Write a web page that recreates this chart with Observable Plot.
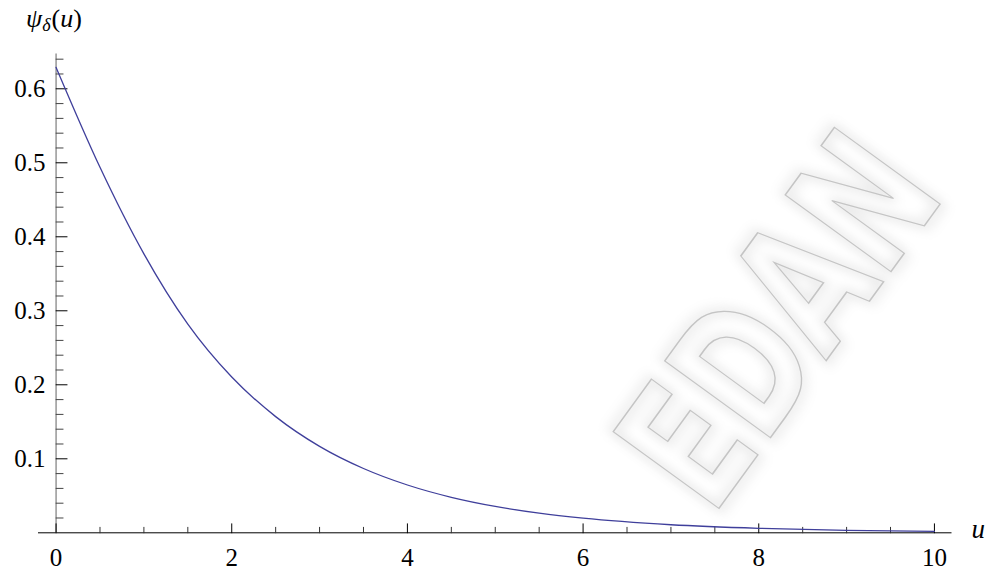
<!DOCTYPE html>
<html>
<head>
<meta charset="utf-8">
<script src="https://cdn.jsdelivr.net/npm/d3@7"></script>
<script src="https://cdn.jsdelivr.net/npm/@observablehq/plot@0.6"></script>
<style>
  html, body { margin: 0; padding: 0; background: #fff; }
  #chart svg { display: block; }
</style>
</head>
<body>
<div id="chart"></div>
<script>
// Ruin-probability curve ψδ(u) against initial surplus u
const uValues   = [0, 0.5, 1, 1.5, 2, 2.5, 3, 3.5, 4, 4.5, 5, 5.5, 6, 7, 8, 9, 10];
const psiValues = [0.629, 0.494, 0.377, 0.282, 0.2105, 0.157, 0.1168, 0.0869, 0.0646, 0.048,
                   0.0357, 0.0265, 0.0197, 0.0109, 0.0061, 0.0034, 0.0019];

// Axis ticks
const xMajorTicks = [0, 2, 4, 6, 8, 10];
const xMinorTicks = [0.5, 1, 1.5, 2.5, 3, 3.5, 4.5, 5, 5.5, 6.5, 7, 7.5, 8.5, 9, 9.5];
const yMajorTicks = [0.1, 0.2, 0.3, 0.4, 0.5, 0.6];
const yMinorTicks = [0.02, 0.04, 0.06, 0.08, 0.12, 0.14, 0.16, 0.18, 0.22, 0.24, 0.26, 0.28,
                     0.32, 0.34, 0.36, 0.38, 0.42, 0.44, 0.46, 0.48, 0.52, 0.54, 0.56, 0.58,
                     0.62, 0.64];
const xDomain = [-0.2, 10.2];
const yDomain = [0, 0.647];

const xTitle = "u";
const watermarkText = "EDAN";

const curveData = uValues.map((u, i) => ({u, psi: psiValues[i]}));

// a plain stroke pointing away from the axis, used for inward tick marks
const tickShape = {draw(context, l) { context.moveTo(0, 0); context.lineTo(0, -l); }};
const serif = "'Liberation Serif', 'Times New Roman', serif";

const chart = Plot.plot({
  width: 993,
  height: 570,
  marginLeft: 38,
  marginRight: 41.5,
  marginTop: 53.5,
  marginBottom: 37.7,
  x: {domain: xDomain},
  y: {domain: yDomain},
  style: {background: "transparent", fontFamily: serif, fontSize: "25px", color: "#000"},
  marks: [
    Plot.ruleY([0], {stroke: "#000", strokeWidth: 1}),
    Plot.ruleX([0], {stroke: "#7c7c7c", strokeWidth: 1.2}),
    Plot.vector(xMajorTicks, {x: d => d, y: () => 0, length: 9, rotate: 0, anchor: "start",
                              shape: tickShape, stroke: "#000", strokeWidth: 1}),
    Plot.vector(xMinorTicks, {x: d => d, y: () => 0, length: 5.5, rotate: 0, anchor: "start",
                              shape: tickShape, stroke: "#333", strokeWidth: 1}),
    Plot.vector(yMajorTicks, {x: () => 0, y: d => d, length: 11, rotate: 90, anchor: "start",
                              shape: tickShape, stroke: "#000", strokeWidth: 1}),
    Plot.vector(yMinorTicks, {x: () => 0, y: d => d, length: 7, rotate: 90, anchor: "start",
                              shape: tickShape, stroke: "#444", strokeWidth: 1}),
    Plot.axisX(xMajorTicks, {tickSize: 0, tickPadding: 15, label: null, tickFormat: d => String(d),
                             fontSize: 25, fontFamily: serif}),
    Plot.axisY(yMajorTicks, {tickSize: 0, tickPadding: 0, dx: 7, label: null,
                             tickFormat: d => d.toFixed(1), fontSize: 25, fontFamily: serif}),
    Plot.line(curveData, {x: "u", y: "psi", stroke: "#3f3f9b", strokeWidth: 1.3, curve: "monotone-x"}),
    Plot.text([xTitle], {text: d => d, frameAnchor: "bottom-right", dx: 33, dy: 5,
                         fontStyle: "italic", fontSize: 27, fontFamily: serif})
  ]
});

document.getElementById("chart").appendChild(chart);

const svg = d3.select(chart);

// faint outlined watermark lettering behind everything, stretched tall
const defs = svg.insert("defs", ":first-child");
defs.append("filter").attr("id", "wm-blur").attr("x", "-20%").attr("y", "-20%")
    .attr("width", "140%").attr("height", "140%")
  .append("feGaussianBlur").attr("stdDeviation", 5);
const wm = svg.insert("g", "defs + *")
  .attr("transform", "translate(712,518) rotate(-54) scale(1,1.4)")
  .attr("font-family", "'DejaVu Sans', sans-serif")
  .attr("font-weight", "bold")
  .attr("font-size", 128)
  .attr("text-anchor", "start");
wm.append("text")
  .attr("fill", "none").attr("stroke", "#000").attr("stroke-opacity", 0.09).attr("stroke-width", 7)
  .attr("filter", "url(#wm-blur)").text(watermarkText);
wm.append("text")
  .attr("fill", "none").attr("stroke", "#c4c4c4").attr("stroke-width", 1.3)
  .attr("vector-effect", "non-scaling-stroke").text(watermarkText);

// y-axis title ψδ(u) with a subscript
const title = svg.append("text")
  .attr("x", 26).attr("y", 27).attr("text-anchor", "start")
  .attr("font-family", serif).attr("font-size", 26).attr("fill", "#000");
title.append("tspan").attr("font-style", "italic").text("ψ");
title.append("tspan").attr("font-style", "italic").attr("font-size", 18).attr("dy", 4).text("δ");
title.append("tspan").attr("dy", -4).attr("dx", 1).text("(");
title.append("tspan").attr("font-style", "italic").text("u");
title.append("tspan").text(")");
</script>
</body>
</html>
